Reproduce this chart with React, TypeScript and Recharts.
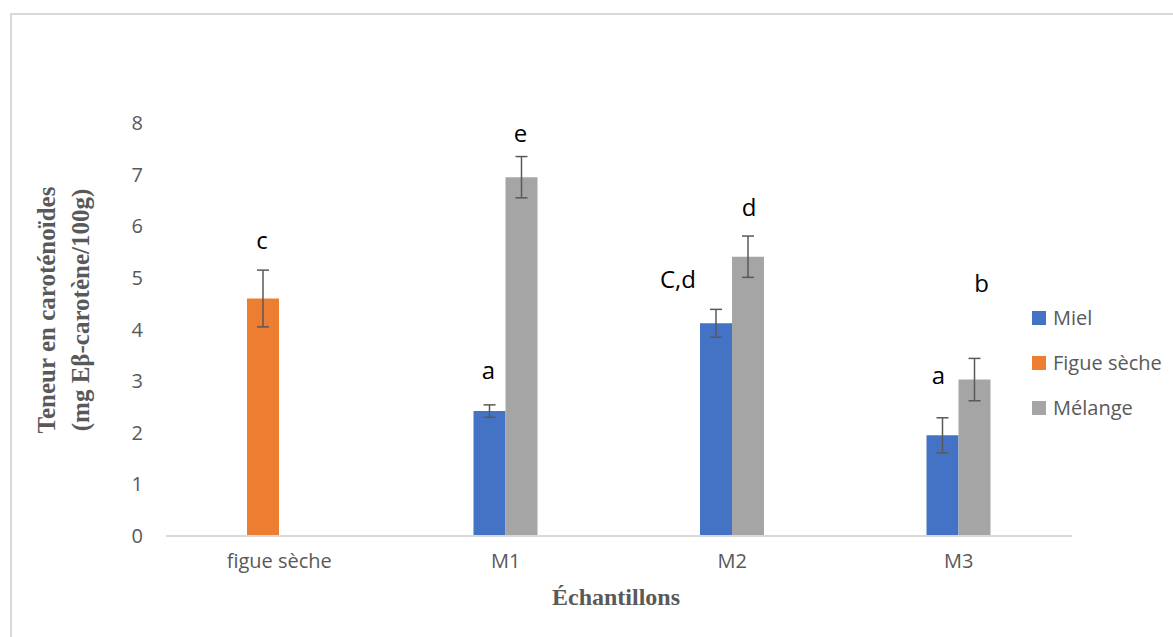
import { Bar, BarChart, Cell, ErrorBar, LabelList, XAxis, YAxis } from 'recharts'

// samples on the x axis
const categories = ['figue sèche', 'M1', 'M2', 'M3']

// first bar of each group: fig alone, then honey
const firstValues = [4.6, 2.42, 4.12, 1.95]
const firstErrors = [0.55, 0.12, 0.27, 0.34]
const firstLetters = ['c', 'a', 'C,d', 'a']

// second bar: mixture (none for the fig)
const mixValues = [null, 6.95, 5.41, 3.03]
const mixErrors = [null, 0.4, 0.4, 0.41]
const mixLetters = ['', 'e', 'd', 'b']

const yTicks = [0, 1, 2, 3, 4, 5, 6, 7, 8]

const legendNames = ['Miel', 'Figue sèche', 'Mélange']

const BLUE = '#4472C4'
const ORANGE = '#ED7D31'
const GRAY = '#A5A5A5'
const legendColors = [BLUE, ORANGE, GRAY]

const TEXT_GRAY = '#595959'
const SANS = '"Open Sans", "Noto Sans", sans-serif'
const SERIF = '"Liberation Serif", "DejaVu Serif", serif'

// hand-placed letters in the original, relative to the top of each bar
const FIRST_NUDGE = [
  { dx: -1, dy: -59 },
  { dx: -1, dy: -42 },
  { dx: -38, dy: -45 },
  { dx: -4, dy: -61 }
]
const MIX_NUDGE = [
  { dx: 0, dy: 0 },
  { dx: -1, dy: -45 },
  { dx: 1, dy: -50 },
  { dx: 7, dy: -97 }
]

const data = categories.map((name, i) => ({
  name,
  first: firstValues[i],
  firstErr: firstErrors[i],
  mix: mixValues[i],
  mixErr: mixErrors[i]
}))

// label value is the category name, so the letter is looked up by category
function letterLabel(letters: string[], nudge: { dx: number; dy: number }[]) {
  return (props: any) => {
    const { x, y, width, value } = props
    const i = categories.indexOf(value)
    const text = letters[i]
    if (!text || x == null || y == null) return null
    return (
      <text
        x={Number(x) + Number(width) / 2 + nudge[i].dx}
        y={Number(y) + nudge[i].dy}
        textAnchor="middle"
        dominantBaseline="central"
        fontFamily={SANS}
        fontSize={24}
        fill="#000"
      >
        {text}
      </text>
    )
  }
}

function LegendBox() {
  return (
    <div style={{ position: 'absolute', left: 1032, top: 295 }}>
      {legendNames.map((name, i) => (
        <div
          key={name}
          style={{ display: 'flex', alignItems: 'center', height: 45, fontFamily: SANS, fontSize: 20, color: TEXT_GRAY, whiteSpace: 'nowrap' }}
        >
          <span style={{ width: 14, height: 14, background: legendColors[i], marginRight: 7 }} />
          {name}
        </div>
      ))}
    </div>
  )
}

function YTitle() {
  return (
    <g fontFamily={SERIF} fontWeight="bold" fontSize={25} fill={TEXT_GRAY}>
      <text x={46} y={310} textAnchor="middle" dominantBaseline="central" transform="rotate(-90 46 310)">
        Teneur en caroténoïdes
      </text>
      <text x={80} y={310} textAnchor="middle" dominantBaseline="central" transform="rotate(-90 80 310)">
        (mg Eβ-carotène/100g)
      </text>
    </g>
  )
}

export default function App() {
  return (
    <div style={{ position: 'absolute', left: 0, top: 0, width: 1173, height: 637, overflow: 'hidden', background: '#fff' }}>
      <div
        style={{
          position: 'absolute',
          left: 10,
          top: 13,
          width: 1300,
          height: 800,
          border: '2px solid #d9d9d9'
        }}
      />
      <div style={{ position: 'absolute', left: 0, top: 0 }}>
        <BarChart
          width={1173}
          height={637}
          data={data}
          margin={{ top: 123, right: 101, left: 136, bottom: 71 }}
          barGap={0}
          barSize={32}
        >
          <XAxis
            dataKey="name"
            axisLine={{ stroke: '#d9d9d9', strokeWidth: 2 }}
            tickLine={false}
            tickSize={0}
            tickMargin={18}
            height={30}
            tick={{ fill: TEXT_GRAY, fontSize: 20, fontFamily: SANS }}
            label={{
              content: () => (
                <text
                  x={616}
                  y={597}
                  textAnchor="middle"
                  dominantBaseline="central"
                  fontFamily={SERIF}
                  fontWeight="bold"
                  fontSize={24}
                  fill={TEXT_GRAY}
                >
                  Échantillons
                </text>
              )
            }}
          />
          <YAxis
            domain={[0, 8]}
            ticks={yTicks}
            axisLine={false}
            tickLine={false}
            tickSize={0}
            tickMargin={23}
            width={30}
            tick={{ fill: TEXT_GRAY, fontSize: 20, fontFamily: SANS }}
            label={{ content: () => <YTitle /> }}
          />
          <Bar dataKey="first" isAnimationActive={false}>
            {data.map((d, i) => (
              <Cell key={d.name} fill={i === 0 ? ORANGE : BLUE} />
            ))}
            <ErrorBar dataKey="firstErr" width={6} stroke={TEXT_GRAY} strokeWidth={1.5} />
            <LabelList dataKey="name" content={letterLabel(firstLetters, FIRST_NUDGE)} />
          </Bar>
          <Bar dataKey="mix" fill={GRAY} isAnimationActive={false}>
            <ErrorBar dataKey="mixErr" width={6} stroke={TEXT_GRAY} strokeWidth={1.5} />
            <LabelList dataKey="name" content={letterLabel(mixLetters, MIX_NUDGE)} />
          </Bar>
        </BarChart>
      </div>
      <LegendBox />
    </div>
  )
}
